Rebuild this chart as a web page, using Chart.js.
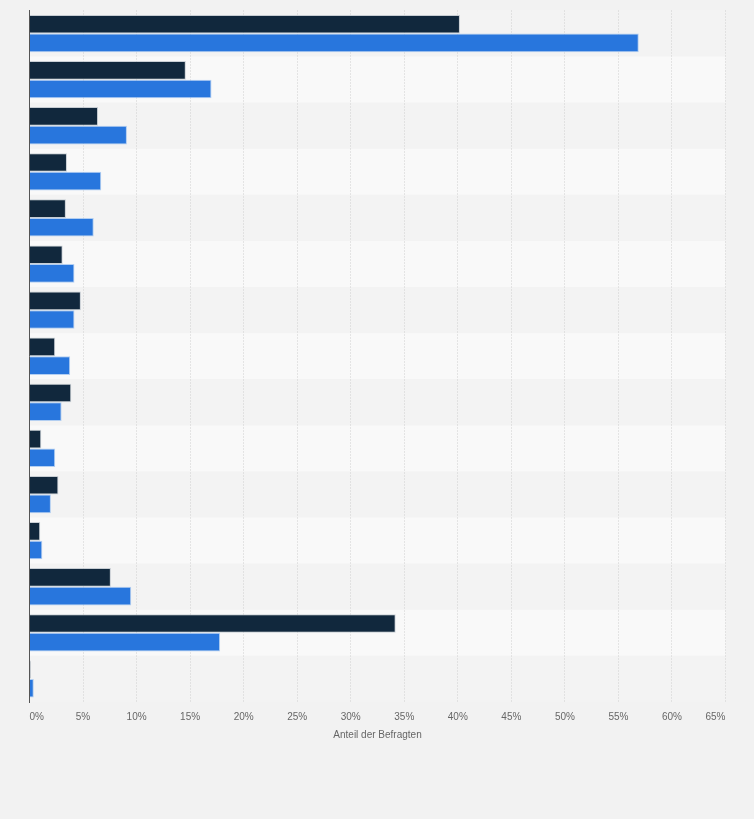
<!DOCTYPE html>
<html>
<head>
<meta charset="utf-8">
<script src="https://cdn.jsdelivr.net/npm/chart.js@4.4.1/dist/chart.umd.min.js"></script>
<style>
  html, body { margin: 0; padding: 0; background: #f2f2f2; }
  #wrap { position: relative; width: 754px; height: 819px; }
</style>
</head>
<body>
<div id="wrap"><canvas id="c"></canvas></div>
<script>
// Categories (no labels shown in the reference)
const categories = ["1","2","3","4","5","6","7","8","9","10","11","12","13","14","15"];
// Series values (percent)
const seriesDark = [40.2, 14.6, 6.4, 3.5, 3.4, 3.1, 4.8, 2.4, 3.9, 1.1, 2.7, 1.0, 7.6, 34.2, 0.1];
const seriesBlue = [56.9, 17.0, 9.1, 6.7, 6.0, 4.2, 4.2, 3.8, 3.0, 2.4, 2.0, 1.2, 9.5, 17.8, 0.4];
// Tick settings
const xMin = 0, xMax = 65, xStep = 5;
const axisTitle = "Anteil der Befragten";

const bandPluginEarly = {
  id: 'bandsEarly',
  beforeDraw(chart) {
    const { ctx, chartArea, scales } = chart;
    const y = scales.y;
    const n = categories.length;
    const h = (chartArea.bottom - chartArea.top) / n;
    ctx.save();
    ctx.fillStyle = '#f2f2f2';
    ctx.fillRect(0, 0, chart.width, chart.height);
    for (let i = 0; i < n; i++) {
      const c = y.getPixelForValue(i);
      ctx.fillStyle = (i % 2 === 0) ? '#f3f3f3' : '#f9f9f9';
      ctx.fillRect(chartArea.left, c - h / 2, chartArea.right - chartArea.left, h);
    }
    ctx.restore();
  }
};

Chart.defaults.font.family = '"Liberation Sans", Arial, sans-serif';
Chart.defaults.font.size = 10;
Chart.defaults.color = '#666';

new Chart(document.getElementById('c'), {
  type: 'bar',
  data: {
    labels: categories,
    datasets: [
      { label: 'Serie 1', data: seriesDark, backgroundColor: '#11283d',
        borderColor: 'rgba(170,180,190,0.6)', borderWidth: 1, borderSkipped: 'left',
        categoryPercentage: 0.81, barPercentage: 1.0 },
      { label: 'Serie 2', data: seriesBlue, backgroundColor: '#2876dd',
        borderColor: 'rgba(150,190,240,0.7)', borderWidth: 1, borderSkipped: 'left',
        categoryPercentage: 0.81, barPercentage: 1.0 }
    ]
  },
  options: {
    indexAxis: 'y',
    responsive: true,
    maintainAspectRatio: false,
    animation: false,
    layout: { padding: { left: 29.5, right: 28.5, top: 10.5, bottom: 78 } },
    plugins: { legend: { display: false }, tooltip: { enabled: false } },
    scales: {
      x: {
        min: xMin, max: xMax,
        ticks: {
          stepSize: xStep,
          padding: 9,
          align: 'inner',
          color: '#666',
          font: { size: 10 },
          callback: v => v + '%'
        },
        grid: {
          color: '#cfcfcf',
          lineWidth: 1,
          drawTicks: false
        },
        border: { display: false, dash: [1, 2] },
        title: {
          display: true,
          text: axisTitle,
          color: '#666',
          font: { size: 10 },
          padding: { top: -3, bottom: 0 }
        }
      },
      y: {
        ticks: { display: false },
        grid: { display: false, drawTicks: false },
        border: { display: true, color: '#555', width: 1 },
        afterFit(scale) { scale.width = 0; }
      }
    }
  },
  plugins: [bandPluginEarly]
});
</script>
</body>
</html>
